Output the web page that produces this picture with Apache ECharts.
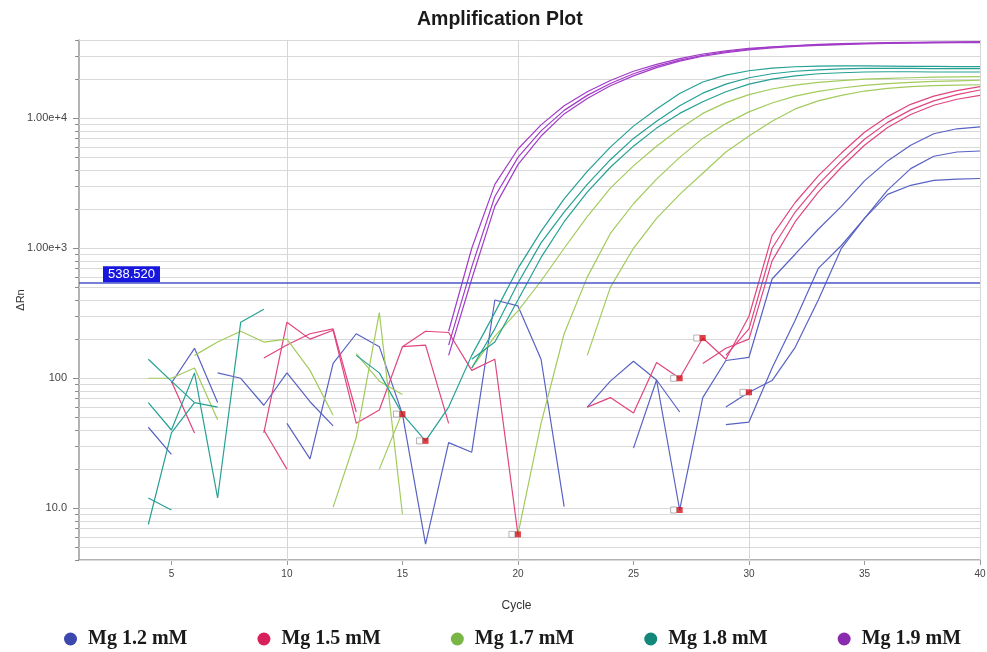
<!DOCTYPE html>
<html><head><meta charset="utf-8">
<script src="https://cdn.jsdelivr.net/npm/echarts@6/dist/echarts.min.js"></script>
<style>html,body{margin:0;padding:0;background:#fff}#chart{width:987px;height:652px}</style>
</head><body><div id="chart"></div>
<script>
const n = null;
const cycles = [1,2,3,4,5,6,7,8,9,10,11,12,13,14,15,16,17,18,19,20,21,22,23,24,25,26,27,28,29,30,31,32,33,34,35,36,37,38,39,40];
const seriesNames = ['Mg 1.2 mM','Mg 1.5 mM','Mg 1.7 mM','Mg 1.8 mM','Mg 1.9 mM'];

// Mg 1.2 mM replicates (ΔRn per cycle, null = not drawn)
const mg12_a = [n,n,n,42,26,n,110,100,62,110, 66,43,n,n,n,n,n,n,n,n, n,n,n,n,29,97,9.7,71,137,145, 580,900,1400,2100,3300,4700,6200,7600,8300,8600];
const mg12_b = [n,n,n,n,92,170,65,n,n,45, 24,130,220,175,53,5.3,32,27,400,360, 140,10.3,n,n,n,n,n,n,44,46, 120,280,700,1050,1700,2800,4100,5100,5500,5600];
const mg12_c = [n,n,n,n,n,n,n,n,n,n, n,n,n,n,n,n,n,n,n,n, n,n,60,95,135,97,55,n,60,78, 96,173,400,1000,1700,2600,3050,3330,3400,3440];
// Mg 1.5 mM
const mg15_a = [n,n,n,n,95,38,n,n,143,180, 220,240,55,n,n,n,n,n,n,n, n,n,60,71,54,132,100,204,140,300, 1250,2250,3600,5400,7800,10300,12800,14800,16300,17500];
const mg15_b = [n,n,n,n,n,n,n,n,38,270, 200,234,45,57,175,180,45,n,n,n, n,n,n,n,n,n,n,n,150,240, 1000,1900,3100,4700,6900,9300,11600,13600,15200,16500];
const mg15_c = [n,n,n,n,n,n,n,n,40,20, n,n,n,n,175,230,225,115,140,6.3, n,n,n,n,n,n,n,130,170,200, 800,1600,2700,4200,6200,8500,10700,12600,14000,15000];
// Mg 1.7 mM
const mg17_a = [n,n,n,100,100,120,48,n,n,n, n,n,155,95,75,n,n,120,210,330, 560,1000,1750,2900,4300,6100,8300,10900,13200,15200, 16800,18000,18900,19500,20000,20300,20500,20700,20800,20900];
const mg17_b = [n,n,n,n,n,150,190,230,190,200, 115,52,n,20,55,n,n,n,n,6.3, 45,220,600,1300,2200,3400,5000,7000,9100,11200, 13100,14800,16100,17100,17900,18500,18900,19200,19400,19600];
const mg17_c = [n,n,n,n,n,n,n,n,n,n, n,10.2,35,320,9,n,n,n,n,n, n,n,150,500,1000,1700,2600,3780,5500,7300, 9500,11800,13600,15000,16200,17000,17500,17800,18000,18100];
// Mg 1.8 mM
const mg18_a = [n,n,n,140,95,65,60,n,n,n, n,n,150,110,53,33,60,150,320,700, 1350,2400,3900,6000,8700,11800,15500,19000,21500,23200, 24300,24900,25200,25300,25300,25200,25100,25100,25000,25000];
const mg18_b = [n,n,n,7.5,38,65,n,n,n,n, n,n,n,n,n,n,n,120,240,540, 1100,1900,3100,4800,7000,9500,12500,15600,18300,20500, 22000,23000,23600,24000,24200,24200,24200,24100,24100,24100];
const mg18_c = [n,n,n,65,40,110,12,270,340,n, n,n,n,n,n,n,n,140,190,400, 850,1600,2700,4200,6100,8400,10900,13400,16000,18300, 20000,21200,22000,22400,22700,22800,22800,22700,22700,22700];
const mg18_d = [n,n,n,12,9.7,n,n,n,n,n, n,n,n,n,n,n,n,n,n,n, n,n,n,n,n,n,n,n,n,n, n,n,n,n,n,n,n,n,n,n];
// Mg 1.9 mM
const mg19_a = [n,n,n,n,n,n,n,n,n,n, n,n,n,n,n,n,230,1000,3100,5800, 8900,12500,16000,19500,23000,26000,28800,31200,33000,34500, 35500,36300,37000,37500,37900,38200,38400,38600,38700,38800];
const mg19_b = [n,n,n,n,n,n,n,n,n,n, n,n,n,n,n,n,180,720,2500,5000, 8000,11500,15000,18500,22000,25200,28000,30500,32500,34000, 35200,36000,36700,37200,37600,37900,38100,38300,38400,38500];
const mg19_c = [n,n,n,n,n,n,n,n,n,n, n,n,n,n,n,n,150,580,2100,4400, 7300,10800,14200,17800,21200,24500,27500,30000,32000,33600, 34800,35700,36400,36900,37300,37600,37800,38000,38100,38200];

const thresholdValue = 538.52;
const thresholdText = '538.520';
const baselineMarks = [[15,53],[16,33],[20,6.3],[27,100],[28,204],[27,9.7],[30,78]];
const xTickValues = [5,10,15,20,25,30,35,40];
const yTickText = {10:'10.0',100:'100',1000:'1.00e+3',10000:'1.00e+4'};
const verticalGridCycles = [10,20,30,40];

const groups = [
  {name: seriesNames[0], reps: [mg12_a, mg12_b, mg12_c], line: '#5862c4', legend: '#3c48ad'},
  {name: seriesNames[1], reps: [mg15_a, mg15_b, mg15_c], line: '#e0457f', legend: '#d8205a'},
  {name: seriesNames[2], reps: [mg17_a, mg17_b, mg17_c], line: '#a2cb5c', legend: '#7ab548'},
  {name: seriesNames[3], reps: [mg18_a, mg18_b, mg18_c, mg18_d], line: '#25a093', legend: '#13887a'},
  {name: seriesNames[4], reps: [mg19_a, mg19_b, mg19_c], line: '#a23cc8', legend: '#8a2aae'}
];

const yMin = 4, yMax = 40000, xMin = 1, xMax = 40;
const hGridVals = [];
[1,10,100,1000,10000].forEach(d => { for (let m = 1; m <= 9; m++) { const v = d * m; if (v >= yMin && v <= yMax) hGridVals.push(v); } });

const series = [];
series.push({
  type: 'custom', silent: true, z: 1, clip: false,
  data: hGridVals.map(v => [xMin, v]), encode: {x: 0, y: 1},
  renderItem: function (params, api) {
    const v = api.value(1);
    const a = api.coord([xMin, v]), b = api.coord([xMax, v]);
    const y = Math.round(a[1]) + 0.5;
    const major = yTickText[v] !== undefined;
    return {type: 'group', children: [
      {type: 'line', shape: {x1: a[0], y1: y, x2: b[0], y2: y}, style: {stroke: '#d9d9d9', lineWidth: 1}},
      {type: 'line', shape: {x1: a[0] - (major ? 6 : 4), y1: y, x2: a[0], y2: y}, style: {stroke: '#8c8c8c', lineWidth: 1}}
    ]};
  }
});
series.push({
  type: 'custom', silent: true, z: 1, clip: false,
  data: verticalGridCycles.map(c => [c, yMin]), encode: {x: 0, y: 1},
  renderItem: function (params, api) {
    const c = api.value(0);
    const a = api.coord([c, yMin]), b = api.coord([c, yMax]);
    const x = Math.round(a[0]) + 0.5;
    return {type: 'line', shape: {x1: x, y1: a[1], x2: x, y2: b[1]}, style: {stroke: '#d6d6d6', lineWidth: 1}};
  }
});
groups.forEach(g => {
  g.reps.forEach(arr => {
    series.push({
      name: g.name, type: 'line', z: 3, showSymbol: false, symbol: 'none', connectNulls: false,
      color: g.line,
      lineStyle: {width: 1.2, color: g.line},
      data: cycles.map((c, i) => [c, arr[i] === null ? '-' : arr[i]])
    });
  });
});
series.push({
  name: 'threshold', type: 'line', data: [], z: 4,
  markLine: {
    silent: true, symbol: 'none', animation: false,
    data: [{yAxis: thresholdValue}],
    lineStyle: {color: '#4b55c9', width: 1.6, type: 'solid'},
    label: {show: true, position: 'insideStartTop', formatter: thresholdText, color: '#ffffff',
      backgroundColor: '#1717de', padding: [1, 5, 1, 5], lineHeight: 14, fontSize: 13, fontFamily: 'Arial', distance: [24, 1]}
  }
});
series.push({
  name: 'markBox', type: 'scatter', z: 5, symbol: 'rect', symbolSize: 6, symbolOffset: [-6, 0],
  itemStyle: {color: '#ffffff', borderColor: '#a0a0a0', borderWidth: 1}, data: baselineMarks
});
series.push({
  name: 'markRed', type: 'scatter', z: 6, symbol: 'rect', symbolSize: 6,
  itemStyle: {color: '#d4141c'}, data: baselineMarks
});

const chart = echarts.init(document.getElementById('chart'), null, {renderer: 'canvas'});
chart.setOption({
  animation: false,
  backgroundColor: '#ffffff',
  title: {text: 'Amplification Plot', left: 412, top: 5,
    textStyle: {fontFamily: 'Arial', fontWeight: 'bold', fontSize: 19.5, color: '#1a1a1a'}},
  grid: {left: 79, right: 7, top: 40, bottom: 92, containLabel: false, outerBoundsMode: 'none'},
  legend: {
    data: groups.map(g => ({name: g.name, icon: 'circle', itemStyle: {color: g.legend}})),
    left: 59, top: 624, itemWidth: 13, itemHeight: 13, itemGap: 70,
    textStyle: {fontFamily: 'Liberation Serif', fontWeight: 'bold', fontSize: 20, color: '#1a1a1a', padding: [0, 0, 0, 6]}
  },
  xAxis: {
    type: 'value', min: xMin, max: xMax,
    name: 'Cycle', nameLocation: 'middle', nameGap: 40, nameMoveOverlap: false,
    nameTextStyle: {fontFamily: 'Arial', fontSize: 12, color: '#333', padding: [0, 26, 0, 0]},
    axisLine: {show: true, lineStyle: {color: '#9a9a9a', width: 1.5}},
    axisTick: {show: true, customValues: xTickValues, length: 5, lineStyle: {color: '#9a9a9a'}},
    axisLabel: {customValues: xTickValues, fontFamily: 'Arial', fontSize: 10, color: '#444', margin: 9},
    splitLine: {show: false}
  },
  yAxis: {
    type: 'log', logBase: 10, min: yMin, max: yMax,
    name: 'ΔRn', nameLocation: 'middle', nameGap: 53, nameMoveOverlap: false,
    nameTextStyle: {fontFamily: 'Arial', fontSize: 11, color: '#333'},
    axisLine: {show: true, lineStyle: {color: '#9a9a9a', width: 1.5}},
    axisTick: {show: false},
    axisLabel: {fontFamily: 'Arial', fontSize: 11, color: '#444', margin: 12,
      formatter: v => yTickText[Math.round(v)] || ''},
    splitLine: {show: false}, minorTick: {show: false}
  },
  series: series
});
</script></body></html>
